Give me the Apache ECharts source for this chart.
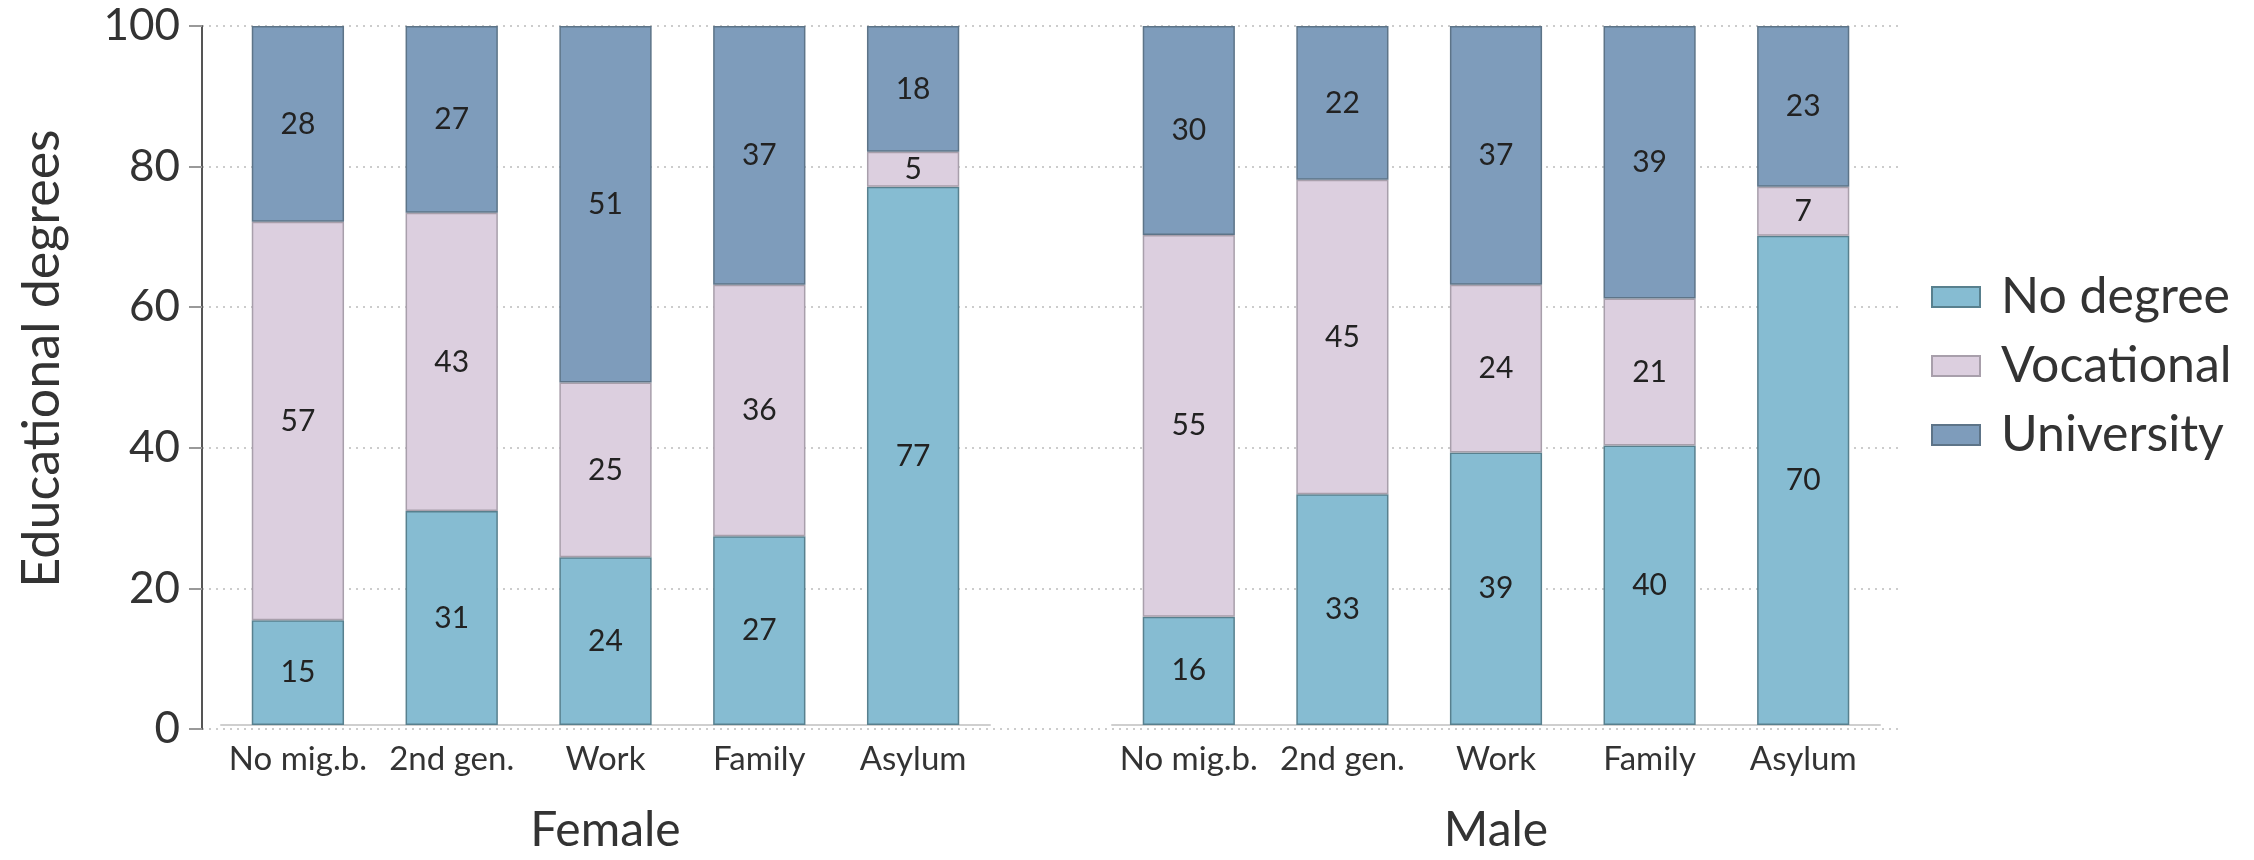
<!DOCTYPE html>
<html>
<head>
<meta charset="utf-8">
<script src="https://cdn.jsdelivr.net/npm/echarts@6/dist/echarts.min.js"></script>
<style>
html,body{margin:0;padding:0;background:#fff;}
#chart{width:2254px;height:860px;}
</style>
</head>
<body>
<div id="chart"></div>
<script>
const categories = ['No mig.b.', '2nd gen.', 'Work', 'Family', 'Asylum'];
const facets = ['Female', 'Male'];
const seriesNames = ['No degree', 'Vocational', 'University'];
const yTicks = [0, 20, 40, 60, 80, 100];

const femaleNoDegree = [15, 30.6, 24, 27, 77];
const femaleVocational = [57, 42.7, 25, 36, 5];
const femaleUniversity = [28, 26.7, 51, 37, 18];

const maleNoDegree = [15.5, 33, 39, 40, 70];
const maleVocational = [54.6, 45, 24, 21, 7];
const maleUniversity = [29.9, 22, 37, 39, 23];

const fills = ['#86BCD2', '#DCCFDF', '#7E9CBB'];
const borders = ['#58808e', '#a89fab', '#5d7488'];
const FONT = 'Lato';

const chart = echarts.init(document.getElementById('chart'));

const TOP = 26, BOTTOM = 131;
const gridF = {left: 221, right: 1264, top: TOP, bottom: BOTTOM};
const gridM = {left: 1112, right: 374, top: TOP, bottom: BOTTOM};

function catAxis(gridIndex, name) {
  return {
    type: 'category', gridIndex, data: categories,
    axisLine: {show: true, lineStyle: {color: '#cfcfcf', width: 2}},
    axisTick: {show: false},
    axisLabel: {fontFamily: FONT, fontSize: 33, color: '#333', margin: 18, interval: 0},
    name, nameLocation: 'middle', nameGap: 82,
    nameTextStyle: {fontFamily: FONT, fontSize: 48, color: '#333'},
    splitLine: {show: false}, z: 1
  };
}
function hiddenY(gridIndex) {
  return {type: 'value', gridIndex, min: 0, max: 100, interval: 20, show: false, splitLine: {show: false}};
}

function makeSeries(values, k, xi) {
  return {
    type: 'bar', name: seriesNames[k], stack: 's' + xi,
    xAxisIndex: xi, yAxisIndex: xi, data: values, barWidth: '60%',
    itemStyle: {color: fills[k], borderColor: borders[k], borderWidth: 1.5},
    label: {
      show: true, position: 'inside', fontFamily: FONT, fontSize: 30, color: '#222',
      formatter: p => String(Math.round(p.value))
    },
    emphasis: {disabled: true}, z: 3
  };
}

const option = {
  backgroundColor: '#fff',
  animation: false,
  legend: {
    orient: 'vertical', left: 1926, top: 267,
    itemWidth: 48, itemHeight: 20, itemGap: 19,
    icon: 'rect',
    data: seriesNames,
    textStyle: {fontFamily: FONT, fontSize: 50, color: '#333', lineHeight: 50, padding: [0, 0, 0, 16]}
  },
  grid: [
    {left: 202, right: 352, top: TOP, bottom: BOTTOM},
    gridF, gridM
  ],
  xAxis: [
    {type: 'value', gridIndex: 0, min: 0, max: 1, show: false},
    catAxis(1, facets[0]),
    catAxis(2, facets[1])
  ],
  yAxis: [
    {
      type: 'value', gridIndex: 0, min: yTicks[0], max: yTicks[yTicks.length - 1], interval: 20,
      axisLine: {show: true, lineStyle: {color: '#555', width: 2}},
      axisTick: {show: true, length: 13, lineStyle: {color: '#999', width: 2}},
      axisLabel: {fontFamily: FONT, fontSize: 44, color: '#333', margin: 22},
      splitLine: {show: true, lineStyle: {color: '#cccccc', type: [2, 5], width: 2}},
      name: 'Educational degrees', nameLocation: 'middle', nameGap: 134,
      nameTextStyle: {fontFamily: FONT, fontSize: 52, color: '#333', padding: [0, 0, 0, 38]}
    },
    hiddenY(1), hiddenY(2)
  ],
  series: [
    makeSeries(femaleNoDegree, 0, 1),
    makeSeries(femaleVocational, 1, 1),
    makeSeries(femaleUniversity, 2, 1),
    makeSeries(maleNoDegree, 0, 2),
    makeSeries(maleVocational, 1, 2),
    makeSeries(maleUniversity, 2, 2)
  ]
};
chart.setOption(option);
</script>
</body>
</html>
